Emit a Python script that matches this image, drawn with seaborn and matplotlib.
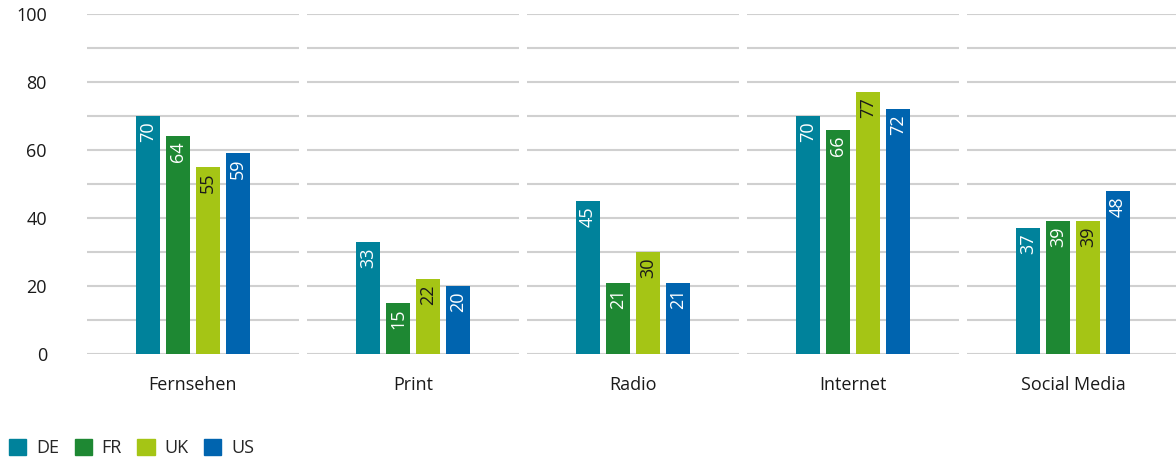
import pandas as pd
import matplotlib.pyplot as plt
import seaborn as sns

# Data
categories = ['Fernsehen', 'Print', 'Radio', 'Internet', 'Social Media']
countries = ['DE', 'FR', 'UK', 'US']
de_values = [70, 33, 45, 70, 37]
fr_values = [64, 15, 21, 66, 39]
uk_values = [55, 22, 30, 77, 39]
us_values = [59, 20, 21, 72, 48]

colors = ['#00829b', '#1e8833', '#a5c515', '#0064af']
label_colors = ['white', 'white', '#1a1a1a', 'white']

rows = []
for country, vals in zip(countries, [de_values, fr_values, uk_values, us_values]):
    for cat, v in zip(categories, vals):
        rows.append({'Kanal': cat, 'Land': country, 'Wert': v})
df = pd.DataFrame(rows)

sns.set_style('white')
plt.rcParams['font.family'] = ['Open Sans', 'DejaVu Sans']

fig = plt.figure(figsize=(11.76, 4.57), dpi=100)
ax = fig.add_axes([83 / 1176, 103 / 457, 1100 / 1176, 340 / 457])

# segmented gridlines, one block per category
for i in range(len(categories)):
    ax.hlines(range(0, 101, 10), i - 0.48, i + 0.48, color='#d0d0d0', linewidth=1.5, zorder=0)

sns.barplot(data=df, x='Kanal', y='Wert', hue='Land', order=categories, hue_order=countries,
            palette=colors, width=0.545, gap=0.23, saturation=1, linewidth=0,
            ax=ax, legend=False, zorder=2)

# value labels inside the bar tops, rotated
for container, tc in zip(ax.containers, label_colors):
    for patch in container:
        h = patch.get_height()
        ax.text(patch.get_x() + patch.get_width() / 2, h - 1.6, f'{h:.0f}', rotation=90,
                ha='center', va='top', color=tc, fontsize=13, zorder=3)

ax.set_xlim(-0.5, 4.5)
ax.set_ylim(0, 100)
ax.set_yticks(range(0, 101, 20))
ax.set_xlabel('')
ax.set_ylabel('')
ax.tick_params(axis='y', length=0, pad=26, labelsize=13, labelcolor='#1a1a1a')
ax.tick_params(axis='x', length=0, pad=16, labelsize=13, labelcolor='#1a1a1a')
for s in ax.spines.values():
    s.set_visible(False)

handles = [plt.Rectangle((0, 0), 1, 1, color=c) for c in colors]
fig.legend(handles, countries, loc='lower left', bbox_to_anchor=(-0.006, -0.036), ncol=4, frameon=False,
           fontsize=13, handlelength=0.95, handleheight=0.95, handletextpad=0.55, columnspacing=0.85)

fig.savefig('out.png', dpi=100)
